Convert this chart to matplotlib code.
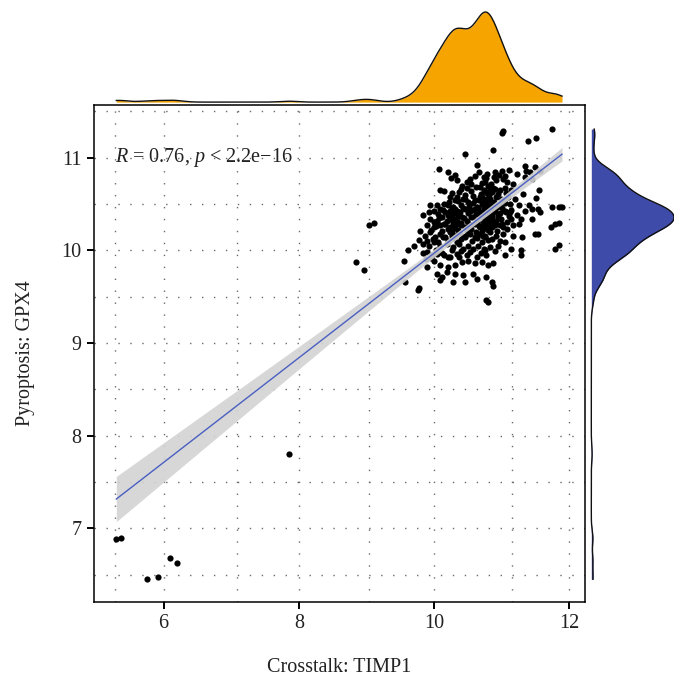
import numpy as np
import matplotlib
matplotlib.use("Agg")
import matplotlib.pyplot as plt

# ---------------- data ----------------
outlier_x = [5.30, 5.37, 5.75, 5.92, 6.10, 6.20, 7.85, 8.85, 8.96, 9.03, 9.11]
outlier_y = [6.88, 6.90, 6.45, 6.47, 6.68, 6.63, 7.80, 9.87, 9.79, 10.27, 10.30]

top_x = [11.02, 11.00, 11.39, 11.50, 11.74, 10.45, 10.87]
top_y = [11.29, 11.27, 11.18, 11.21, 11.31, 11.04, 11.08]

bandA_x = [10.07, 10.20, 10.31, 10.34, 10.64, 10.67, 10.74, 10.78, 10.90, 11.01, 11.11, 11.34, 11.36, 11.41,
           11.49, 11.57, 11.34, 11.44, 10.53, 10.55, 10.75, 10.92, 11.02, 11.07, 11.17, 10.41, 10.68, 10.80]
bandA_y = [10.88, 10.85, 10.81, 10.76, 10.92, 10.85, 10.79, 10.83, 10.85, 10.86, 10.87, 10.91, 10.86, 10.85,
           10.90, 10.86, 10.79, 10.77, 10.77, 10.72, 10.74, 10.76, 10.77, 10.74, 10.72, 10.70, 10.68, 10.70]

bandB_x = [10.09, 10.15, 10.36, 10.48, 10.58, 10.77, 10.87, 10.97, 11.04, 11.14, 11.31, 11.55,
           10.24, 10.31, 10.43, 10.50, 10.60, 10.68, 10.73, 10.82, 10.92, 11.02, 11.09, 11.19, 11.51,
           9.94, 10.04, 10.14, 10.21,
           10.77, 10.87, 10.97, 11.12, 11.26, 11.40, 11.53, 11.74, 11.84, 11.89]
bandB_y = [10.65, 10.64, 10.63, 10.67, 10.59, 10.63, 10.67, 10.65, 10.67, 10.65, 10.61, 10.65,
           10.58, 10.54, 10.56, 10.52, 10.54, 10.58, 10.52, 10.56, 10.58, 10.54, 10.58, 10.56, 10.57,
           10.49, 10.49, 10.50, 10.49,
           10.49, 10.50, 10.49, 10.50, 10.49, 10.49, 10.45, 10.47, 10.47, 10.47]

bandC_x = [9.84, 9.92, 9.99, 10.09, 10.16, 10.24, 10.31, 10.38, 10.46, 10.53, 10.60, 10.68, 10.75, 10.82,
           10.90, 10.97, 11.04, 11.12, 11.22, 11.34, 11.44, 11.56,
           9.94, 10.04, 10.11, 10.19, 10.26, 10.33, 10.41, 10.48, 10.55, 10.63, 10.70, 10.77, 10.85, 10.92,
           10.99, 11.07, 11.14, 11.29, 11.44,
           9.89, 9.99, 10.09, 10.16, 10.24, 10.31, 10.38, 10.46, 10.53, 10.60, 10.68, 10.75, 10.82, 10.90,
           11.02, 11.17, 11.26, 11.72, 11.79, 11.85]
bandC_y = [10.38, 10.41, 10.43, 10.45, 10.41, 10.43, 10.45, 10.41, 10.45, 10.43, 10.45, 10.41, 10.45, 10.41,
           10.43, 10.40, 10.43, 10.41, 10.38, 10.43, 10.45, 10.41,
           10.34, 10.32, 10.36, 10.32, 10.36, 10.32, 10.36, 10.32, 10.36, 10.32, 10.36, 10.32, 10.36, 10.32,
           10.34, 10.31, 10.34, 10.34, 10.34,
           10.27, 10.25, 10.27, 10.29, 10.25, 10.27, 10.29, 10.25, 10.27, 10.29, 10.25, 10.27, 10.25, 10.27,
           10.25, 10.27, 10.29, 10.25, 10.28, 10.30]

bandD_x = [9.79, 9.87, 9.94, 10.01, 10.09, 10.16, 10.24, 10.31, 10.38, 10.46, 10.53, 10.60, 10.68, 10.75,
           10.82, 10.92, 11.02, 11.17, 11.30, 11.49, 11.53,
           9.70, 9.77, 9.84, 9.92, 9.99, 10.09, 10.19, 10.28, 10.36, 10.43, 10.50, 10.58, 10.65, 10.73,
           10.82, 10.95, 11.04, 11.14, 11.29, 11.84, 11.78,
           9.62, 9.55, 9.89, 9.97, 10.04, 10.14, 10.24, 10.36, 10.48, 10.63, 10.77, 11.04, 11.29]
bandD_y = [10.21, 10.16, 10.20, 10.14, 10.18, 10.14, 10.20, 10.16, 10.18, 10.14, 10.18, 10.14, 10.18, 10.16,
           10.20, 10.16, 10.18, 10.16, 10.14, 10.18, 10.18,
           10.05, 10.11, 10.07, 10.05, 10.09, 10.05, 10.07, 10.04, 10.07, 10.02, 10.05, 10.02, 10.05, 10.02,
           10.04, 10.05, 10.09, 10.02, 10.00, 10.06, 10.02,
           10.00, 9.89, 9.98, 9.95, 9.96, 9.95, 9.93, 9.93, 9.95, 9.93, 9.95, 9.95, 9.95]

bandE_x = [9.88, 9.99, 10.09, 10.20, 10.31, 10.41, 10.50, 10.60, 10.70, 10.80, 10.87,
           10.04, 10.11, 10.19, 10.31, 10.43, 10.58, 10.77, 9.90, 9.78, 9.76,
           10.09, 10.28, 10.46, 10.63, 10.85, 10.87, 9.57, 10.80, 10.77]
bandE_y = [9.91, 9.89, 9.84, 9.82, 9.84, 9.87, 9.89, 9.86, 9.87, 9.84, 9.86,
           9.75, 9.71, 9.77, 9.75, 9.73, 9.75, 9.71, 9.82, 9.59, 9.57,
           9.68, 9.66, 9.66, 9.69, 9.66, 9.62, 9.66, 9.44, 9.46]

# dense core of the cloud (overlapping dots)
core_x = [10.22, 10.28, 10.35, 10.40, 10.46, 10.52, 10.57, 10.63, 10.66, 10.71,
          10.74, 10.79, 10.84, 10.88, 10.93, 10.99, 11.05, 10.70, 10.81, 10.76,
          10.05, 10.13, 10.20, 10.27, 10.29, 10.34, 10.37, 10.42, 10.50, 10.56,
          10.62, 10.65, 10.70, 10.72, 10.76, 10.79, 10.83, 10.86, 10.89, 10.94,
          11.00, 11.06, 11.13, 10.78, 10.74,
          10.00, 10.07, 10.14, 10.22, 10.28, 10.30, 10.35, 10.39, 10.44, 10.51,
          10.58, 10.64, 10.68, 10.72, 10.75, 10.78, 10.81, 10.84, 10.88, 10.95,
          11.01, 11.10, 10.26, 10.32, 10.79,
          9.96, 10.03, 10.12, 10.20, 10.27, 10.31, 10.35, 10.40, 10.48, 10.55,
          10.62, 10.67, 10.71, 10.74, 10.77, 10.80, 10.86, 10.93, 10.98, 11.08,
          10.29, 10.36,
          9.90, 9.98, 10.05, 10.13, 10.21, 10.28, 10.33, 10.39, 10.45, 10.56,
          10.64, 10.70, 10.75, 10.80, 10.86, 10.97, 10.26, 10.72,
          10.27, 10.39, 10.45, 10.54, 10.62, 10.69, 10.73, 10.78, 10.82, 10.86, 10.95, 11.06, 10.34, 10.90,
          9.83, 9.95, 10.02, 10.11, 10.26, 10.33, 10.40, 10.53, 10.69, 10.75, 10.90, 10.21,
          10.48, 10.60, 10.71, 10.77, 10.84, 10.96, 11.05, 10.25, 10.88, 11.23]
core_y = [10.52, 10.47, 10.53, 10.49, 10.55, 10.48, 10.51, 10.47, 10.54, 10.50,
          10.46, 10.53, 10.48, 10.52, 10.47, 10.55, 10.51, 10.58, 10.60, 10.56,
          10.39, 10.44, 10.38, 10.46, 10.40, 10.43, 10.38, 10.46, 10.40, 10.44,
          10.39, 10.46, 10.42, 10.38, 10.44, 10.40, 10.46, 10.39, 10.43, 10.38,
          10.46, 10.42, 10.44, 10.35, 10.48,
          10.31, 10.35, 10.29, 10.37, 10.30, 10.34, 10.37, 10.30, 10.35, 10.29,
          10.36, 10.31, 10.37, 10.30, 10.34, 10.37, 10.30, 10.35, 10.31, 10.36,
          10.29, 10.37, 10.33, 10.28, 10.33,
          10.22, 10.26, 10.21, 10.23, 10.20, 10.24, 10.22, 10.27, 10.21, 10.23,
          10.20, 10.26, 10.21, 10.24, 10.28, 10.22, 10.25, 10.21, 10.27, 10.23,
          10.28, 10.19,
          10.10, 10.12, 10.09, 10.15, 10.10, 10.13, 10.09, 10.12, 10.16, 10.10,
          10.13, 10.09, 10.14, 10.11, 10.12, 10.10, 10.16, 10.16,
          10.62, 10.66, 10.60, 10.64, 10.68, 10.61, 10.65, 10.62, 10.67, 10.63, 10.61, 10.62, 10.58, 10.66,
          9.97, 9.92, 10.00, 9.97, 10.01, 9.96, 9.99, 9.98, 9.97, 10.00, 9.99, 9.93,
          10.74, 10.80, 10.73, 10.78, 10.72, 10.81, 10.80, 10.78, 10.79, 10.82]

x_label = "Crosstalk: TIMP1"
y_label = "Pyroptosis: GPX4"
cor_label = r"$R$ = 0.76, $p$ < 2.2e−16"
x_ticks = [6, 8, 10, 12]
y_ticks = [7, 8, 9, 10, 11]

# ---------------- assemble ----------------
xs_all = outlier_x + top_x + bandA_x + bandB_x + bandC_x + bandD_x + bandE_x + core_x
ys_all = outlier_y + top_y + bandA_y + bandB_y + bandC_y + bandD_y + bandE_y + core_y
assert len(xs_all) == len(ys_all), (len(xs_all), len(ys_all))
timp1 = np.array(xs_all)
gpx4 = np.array(ys_all)

plt.rcParams["font.family"] = ["Liberation Serif", "DejaVu Serif"]
plt.rcParams["mathtext.fontset"] = "custom"
plt.rcParams["mathtext.rm"] = "Liberation Serif"
plt.rcParams["mathtext.it"] = "Liberation Serif:italic"

fig = plt.figure(figsize=(6.74, 6.82), dpi=100)
W, H = 674, 682
def box(l, t, r, b):
    return [l / W, 1 - b / H, (r - l) / W, (b - t) / H]

ax = fig.add_axes(box(94, 105, 585, 601.5))
axt = fig.add_axes(box(94, 8, 585, 103), sharex=ax)
axr = fig.add_axes(box(588, 105, 674, 601.5), sharey=ax)

# regression + 95% CI
n = len(timp1)
slope, intercept = np.polyfit(timp1, gpx4, 1)
xs = np.linspace(timp1.min(), timp1.max(), 80)
fit = intercept + slope * xs
resid = gpx4 - (intercept + slope * timp1)
s_err = np.sqrt(np.sum(resid ** 2) / (n - 2))
sxx = np.sum((timp1 - timp1.mean()) ** 2)
se = s_err * np.sqrt(1.0 / n + (xs - timp1.mean()) ** 2 / sxx)
tcrit = 1.97
ax.fill_between(xs, fit - tcrit * se, fit + tcrit * se, color="#d3d3d3", lw=0, zorder=3, alpha=0.9)
ax.scatter(timp1, gpx4, s=20, color="black", lw=0, zorder=2)
ax.plot(xs, fit, color="#4a5fc1", lw=1.0, zorder=4)

ax.set_xlim(4.97, 12.23)
ax.set_ylim(6.21, 11.57)
ax.set_xticks(x_ticks)
ax.set_yticks(y_ticks)
ax.set_xticks([5.28, 7.09, 9.03, 11.15], minor=True)
ax.set_yticks([6.5, 7.5, 8.5, 9.5, 10.5, 11.5], minor=True)
ax.tick_params(which="minor", length=0)
ax.tick_params(which="major", direction="out", length=5, width=1.4, labelsize=14.5, color="black",
               labelcolor="#222222", pad=4)
ax.grid(True, which="both", color="#6a6a6a", linestyle=(0, (1, 7.6)), linewidth=1.0)
ax.set_axisbelow(True)
for sp in ax.spines.values():
    sp.set_linewidth(1.1)
    sp.set_color("black")

ax.set_xlabel(x_label, fontsize=14.5, labelpad=18, color="#222222")
ax.set_ylabel(y_label, fontsize=14.5, labelpad=19, color="#222222")
ax.text(5.28, 11.0, cor_label, fontsize=14.5, ha="left", va="center", color="#222222", zorder=5)

# marginal densities (Gaussian KDE, bw.nrd0)
def nrd0(v):
    sd = np.std(v, ddof=1)
    iqr = np.subtract(*np.percentile(v, [75, 25]))
    return 0.9 * min(sd, iqr / 1.34) * len(v) ** (-0.2)

def kde(v, grid):
    bw = nrd0(v)
    z = (grid[:, None] - v[None, :]) / bw
    return np.exp(-0.5 * z ** 2).sum(axis=1) / (len(v) * bw * np.sqrt(2 * np.pi))

gx = np.linspace(timp1.min(), timp1.max(), 400)
dx = kde(timp1, gx)
axt.fill_between(gx, 0, dx, color="#f5a400", lw=0)
axt.plot(gx, dx, color="#111111", lw=1.0)
axt.set_ylim(-0.01 * dx.max(), dx.max() * 1.045)
axt.axis("off")

gy = np.linspace(gpx4.min(), gpx4.max(), 400)
dy = kde(gpx4, gy)
axr.fill_betweenx(gy, 0, dy, color="#3f4ba9", lw=0)
axr.plot(dy, gy, color="#111111", lw=1.0)
axr.set_xlim(-0.04 * dy.max(), dy.max() * 1.0)
axr.axis("off")

fig.savefig("out.png", dpi=100)
